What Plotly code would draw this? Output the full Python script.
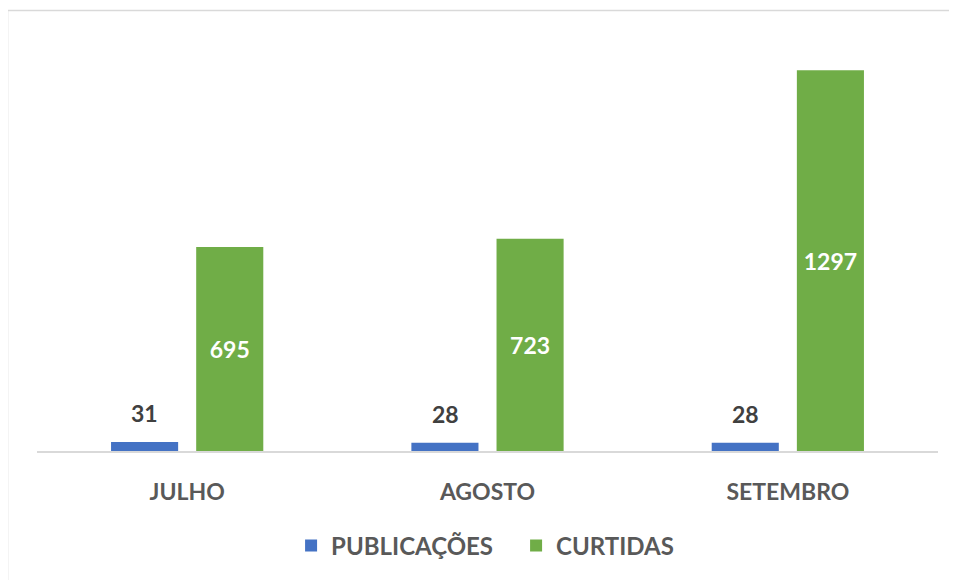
import plotly.graph_objects as go

# Data
meses = ['JULHO', 'AGOSTO', 'SETEMBRO']
publicacoes = [31, 28, 28]
curtidas = [695, 723, 1297]

azul = '#4472C4'
verde = '#70AD47'
fonte = 'Lato'

fig = go.Figure()

fig.add_trace(go.Bar(x=meses, y=publicacoes, name='PUBLICAÇÕES',
                     marker=dict(color=azul, line=dict(width=0))))
fig.add_trace(go.Bar(x=meses, y=curtidas, name='CURTIDAS',
                     marker=dict(color=verde, line=dict(width=0)),
                     text=curtidas, textposition='inside', insidetextanchor='middle',
                     textfont=dict(family=fonte, size=23, color='white', weight='bold'),
                     textangle=0))

# Labels above the small blue bars
for mes, v in zip(meses, publicacoes):
    fig.add_annotation(x=mes, y=v, text=f'<b>{v}</b>', showarrow=False,
                       xshift=-42.5, yshift=13, yanchor='bottom',
                       font=dict(family=fonte, size=23, color='#404040'))

# Outer chart border (only left and top edges are visible)
borda = dict(color='#d9d9d9', width=1.5)
fig.add_shape(type='line', xref='paper', yref='paper',
              x0=-0.0327, x1=-0.0327, y0=-0.4, y1=1.0718, line=borda, layer='below')
fig.add_shape(type='line', xref='paper', yref='paper',
              x0=-0.0327, x1=1.03, y0=1.0718, y1=1.0718, line=borda, layer='below')

# page body adds an 8px margin, so the figure is drawn 8px smaller / shifted
fig.update_layout(
    width=949, height=572,
    margin=dict(l=29, r=19, t=32, b=129),
    paper_bgcolor='white', plot_bgcolor='white',
    barmode='group', bargap=0.433, bargroupgap=0.212,
    showlegend=True,
    legend=dict(orientation='h', x=0.282, xanchor='left', y=-0.231, yanchor='middle',
                font=dict(family=fonte, size=24, color='#595959', weight='bold'),
                traceorder='normal', entrywidth=180, entrywidthmode='pixels',
                itemwidth=30),
    xaxis=dict(showline=True, linecolor='#d9d9d9', linewidth=1.5, ticks='',
               tickfont=dict(family=fonte, size=23, color='#595959', weight='bold'),
               ticklabelstandoff=20),
    yaxis=dict(range=[0, 1400], visible=False, showgrid=False, zeroline=False),
)

fig.write_html('out.html')
